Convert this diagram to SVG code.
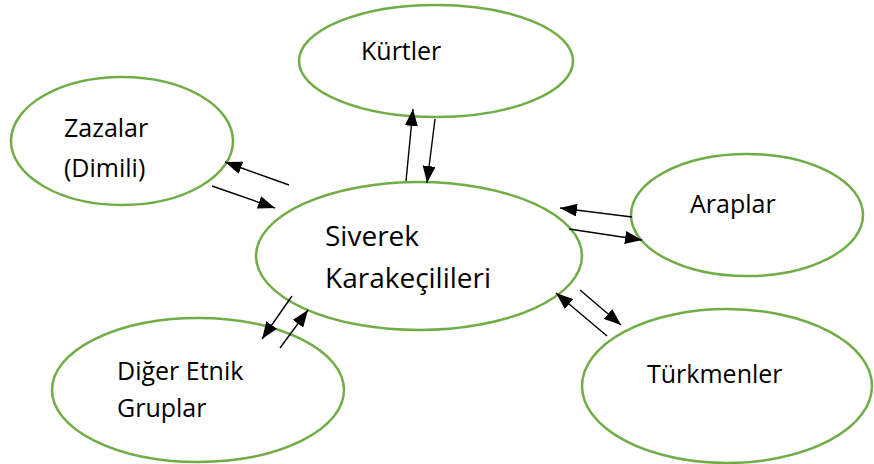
<svg xmlns="http://www.w3.org/2000/svg" width="874" height="464" viewBox="0 0 874 464">
<style>
.node ellipse{fill:#fff;stroke:#70AD47;stroke-width:2.5}
.node text{font-family:"Open Sans","Noto Sans","Liberation Sans",sans-serif;font-size:25px;fill:#000}
.node text.big{font-size:28px}
#connectors line{stroke:#000;stroke-width:1.4;marker-end:url(#ah)}
</style>
<defs>
<marker id="ah" viewBox="0 0 17 13" markerWidth="17" markerHeight="13" refX="17" refY="6.5" orient="auto" markerUnits="userSpaceOnUse">
<path d="M0,0 L17,6.5 L0,13 z" fill="#000"/>
</marker>
</defs>
<rect width="874" height="464" fill="#fff"/>
<g id="kurtler" class="node"><ellipse cx="436" cy="61" rx="137" ry="56"/><text x="361" y="60">Kürtler</text></g>
<g id="zazalar" class="node"><ellipse cx="122" cy="141" rx="111" ry="64"/><text x="64" y="137">Zazalar</text><text x="64" y="177">(Dimili)</text></g>
<g id="siverek" class="node"><ellipse cx="419" cy="256" rx="163" ry="74"/><text class="big" x="325" y="246">Siverek</text><text class="big" x="325" y="288">Karakeçilileri</text></g>
<g id="araplar" class="node"><ellipse cx="747" cy="215" rx="116" ry="61"/><text x="690" y="213">Araplar</text></g>
<g id="diger" class="node"><ellipse cx="198" cy="390" rx="146" ry="72"/><text x="117" y="380">Diğer Etnik</text><text x="117" y="417">Gruplar</text></g>
<g id="turkmenler" class="node"><ellipse cx="727" cy="386" rx="145" ry="77"/><text x="647" y="383">Türkmenler</text></g>
<g id="connectors">
<line x1="406" y1="181" x2="413" y2="109"/>
<line x1="435" y1="119" x2="427" y2="183"/>
<line x1="289" y1="185" x2="225" y2="162"/>
<line x1="212" y1="186" x2="275" y2="208"/>
<line x1="632" y1="217" x2="560" y2="208"/>
<line x1="569" y1="229" x2="642" y2="240"/>
<line x1="580" y1="290" x2="621" y2="325"/>
<line x1="607" y1="336" x2="556" y2="293"/>
<line x1="292" y1="296" x2="262" y2="339"/>
<line x1="280" y1="348" x2="308" y2="310"/>
</g>
</svg>
